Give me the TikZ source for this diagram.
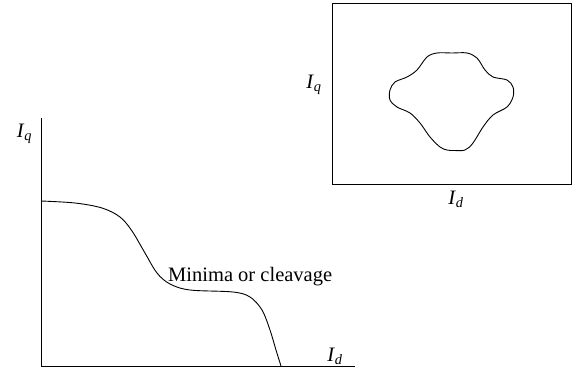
\documentclass[tikz,border=0pt]{standalone}
\usepackage{fontspec}
\setmainfont{Liberation Serif}
\newcommand{\cur}[1]{\textit{I}\textsubscript{\textit{#1}}}
\begin{document}
\begin{tikzpicture}[x=1pt,y=-1pt,
  every node/.style={font=\fontsize{20.5}{22}\selectfont,inner sep=0pt},
  axis/.style={line width=1pt},
  trace/.style={line width=0.9pt}]
\useasboundingbox (0,0) rectangle (574,372);
% left plot
\coordinate (origin) at (41,366);
\coordinate (ytop) at (41,118);
\coordinate (xend) at (355,366);
\draw[axis] (ytop) |- (xend);
\node (iq) at (24.5,134) {\cur{q}};
\node (id) at (335,356) {\cur{d}};
\draw[trace] plot[smooth,tension=0.55] coordinates{(41,201) (75,203) (102,208) (120,217)
  (132,231) (145,253) (157,273) (170,284) (190,290) (233,292) (250,297)
  (262,310) (270,330) (276,350) (281,366)};
\node[anchor=base west] (lbl) at (168,281) {Minima or cleavage};
% right panel
\node[draw,line width=1pt,minimum width=239pt,minimum height=181pt] (panel) at (451.5,93.5) {};
\node (iqr) at (314,85) {\cur{q}};
\node (idr) at (456,199) {\cur{d}};
\draw[trace] plot[smooth cycle,tension=0.55] coordinates{(437,53) (452,53) (467,53) (477,58)
  (485,70) (493,77) (507,80) (513,87) (513,97) (507,107) (493,115) (483,127)
  (473,143) (465,150) (454,150.5) (447,150) (440,147) (430,137) (420,123) (410,113)
  (397,107) (390,100) (390,90) (395,82) (407,77) (417,70) (427,57)};
\end{tikzpicture}
\end{document}
